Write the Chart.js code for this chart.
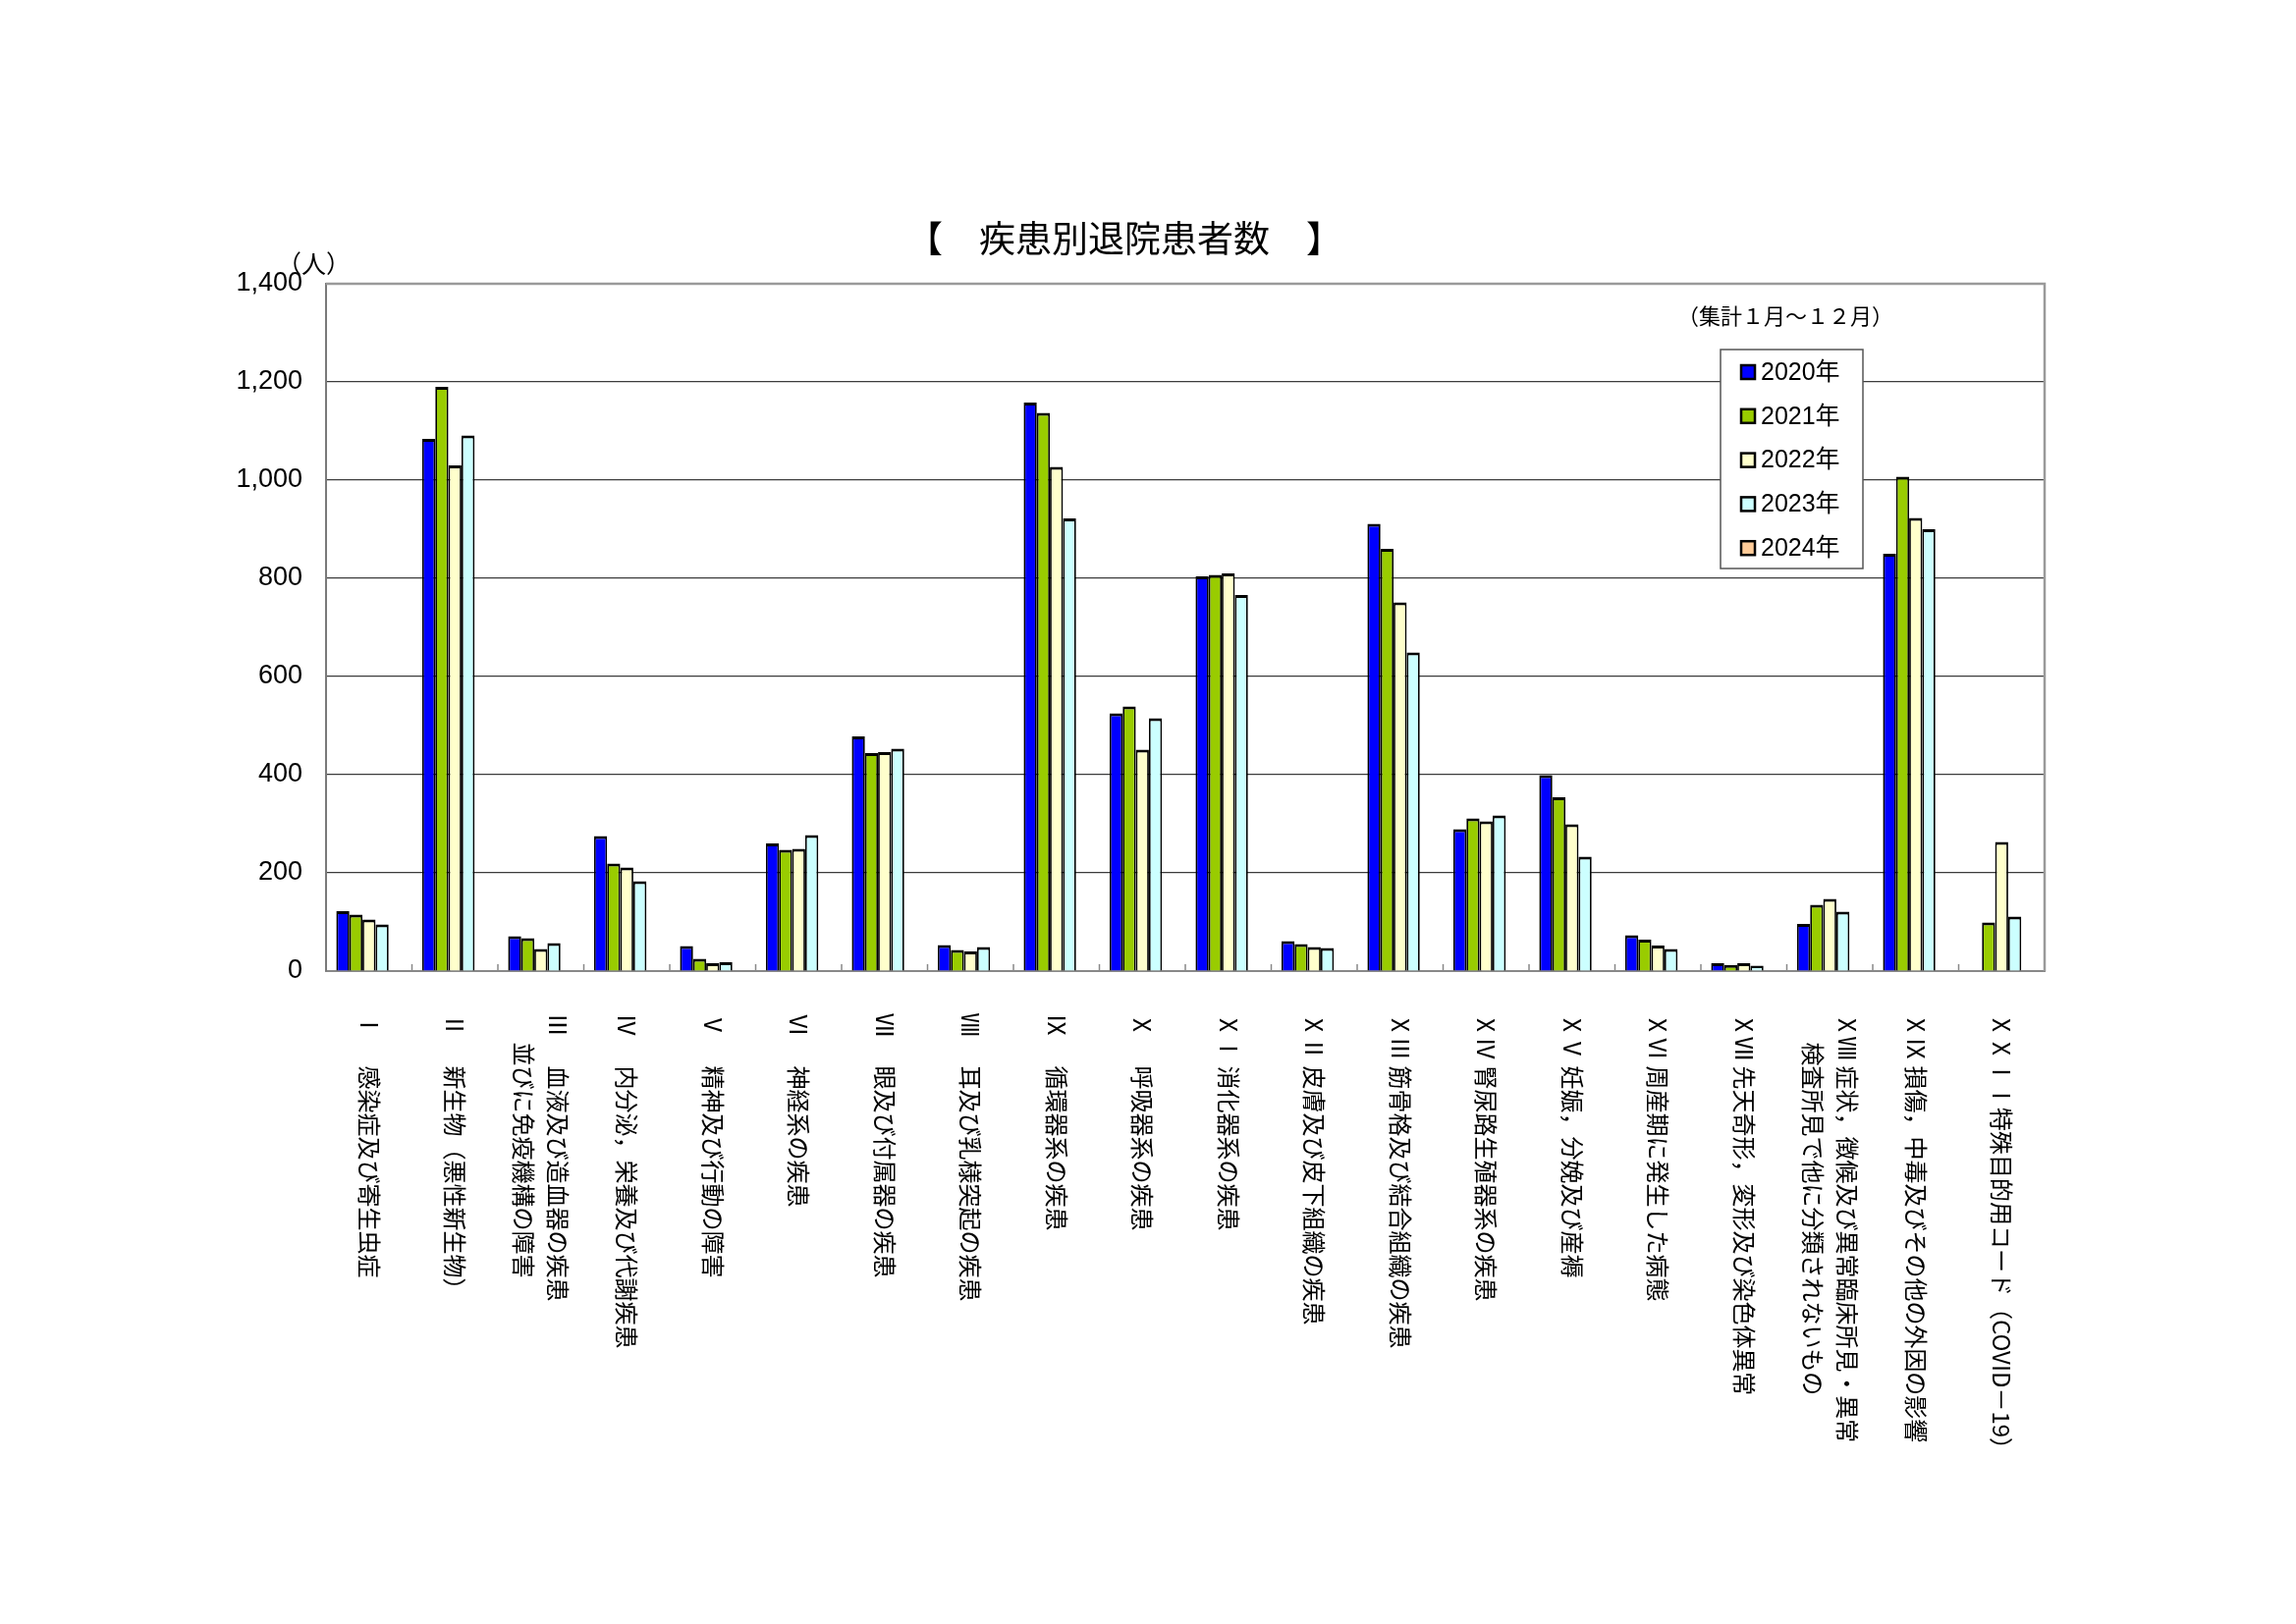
<!DOCTYPE html>
<html>
<head>
<meta charset="utf-8">
<script src="https://cdn.jsdelivr.net/npm/chart.js@4.4.1/dist/chart.umd.min.js"></script>
<style>
html,body{margin:0;padding:0;background:#ffffff;}
canvas{display:block;}
</style>
</head>
<body>
<canvas id="c" width="2338" height="1654"></canvas>
<script>
const TITLE = '【　疾患別退院患者数　】';
const UNIT = '（人）';
const PERIOD = '（集計１月～１２月）';

const categories = [
  'Ⅰ　 感染症及び寄生虫症',
  'Ⅱ　 新生物（悪性新生物）',
  ['Ⅲ　 血液及び造血器の疾患', '　 並びに免疫機構の障害'],
  'Ⅳ　 内分泌，栄養及び代謝疾患',
  'Ⅴ　 精神及び行動の障害',
  'Ⅵ　 神経系の疾患',
  'Ⅶ　 眼及び付属器の疾患',
  'Ⅷ　 耳及び乳様突起の疾患',
  'Ⅸ　 循環器系の疾患',
  'Ⅹ　 呼吸器系の疾患',
  'ⅩⅠ 消化器系の疾患',
  'ⅩⅡ 皮膚及び皮下組織の疾患',
  'ⅩⅢ 筋骨格及び結合組織の疾患',
  'ⅩⅣ 腎尿路生殖器系の疾患',
  'ⅩⅤ 妊娠，分娩及び産褥',
  'ⅩⅥ 周産期に発生した病態',
  'ⅩⅦ 先天奇形，変形及び染色体異常',
  ['ⅩⅧ 症状，徴候及び異常臨床所見・異常', '　 検査所見で他に分類されないもの'],
  'ⅩⅨ 損傷，中毒及びその他の外因の影響',
  'ⅩⅩⅠⅠ特殊目的用コード（COVID－19）'
];

const seriesNames = ['2020年', '2021年', '2022年', '2023年', '2024年'];

const v2020 = [122, 1084, 71, 275, 51, 260, 478, 53, 1158, 525, 804, 61, 911, 289, 399, 73, 16, 96, 850, null];
const v2021 = [115, 1190, 67, 219, 25, 247, 444, 43, 1137, 539, 807, 55, 860, 311, 354, 64, 12, 135, 1007, 99];
const v2022 = [105, 1030, 45, 211, 16, 249, 446, 40, 1027, 451, 810, 49, 751, 305, 299, 52, 16, 147, 923, 263];
const v2023 = [95, 1091, 57, 183, 18, 277, 453, 49, 922, 515, 766, 47, 649, 317, 233, 45, 11, 121, 900, 111];
const v2024 = [null, null, null, null, null, null, null, null, null, null, null, null, null, null, null, null, null, null, null, null];

const yMin = 0, yMax = 1400, yStep = 200;

const seriesColors = ['#0000FF', '#99CC00', '#FFFFCC', '#CCFFFF', '#FFCC99'];

const JP = '"Noto Sans CJK JP", "Noto Sans", sans-serif';
const NUM = '"Liberation Sans", "Noto Sans CJK JP", sans-serif';

const decorPlugin = {
  id: 'decor',
  afterDraw(chart) {
    const ctx = chart.ctx;
    const ca = chart.chartArea;
    const xs = chart.scales.x;
    ctx.save();

    // plot frame (top and right)
    ctx.strokeStyle = '#9a9a9a';
    ctx.lineWidth = 2.5;
    ctx.beginPath();
    ctx.moveTo(ca.left, ca.top);
    ctx.lineTo(ca.right, ca.top);
    ctx.lineTo(ca.right, ca.bottom);
    ctx.stroke();

    // category boundary tick marks (inside)
    const n = categories.length;
    const step = xs.getPixelForValue(1) - xs.getPixelForValue(0);
    ctx.strokeStyle = '#888888';
    ctx.lineWidth = 1.5;
    for (let i = 1; i < n; i++) {
      const x = xs.getPixelForValue(i) - step / 2;
      ctx.beginPath();
      ctx.moveTo(x, ca.bottom);
      ctx.lineTo(x, ca.bottom - 7);
      ctx.stroke();
    }

    // rotated category labels (clockwise)
    ctx.fillStyle = '#000000';
    ctx.font = '24px ' + JP;
    ctx.textAlign = 'left';
    ctx.textBaseline = 'middle';
    const lh = 35;
    categories.forEach((lab, i) => {
      const lines = Array.isArray(lab) ? lab : [lab];
      const cx = xs.getPixelForValue(i);
      lines.forEach((ln, j) => {
        const x = cx + ((lines.length - 1) / 2 - j) * lh;
        ctx.save();
        ctx.translate(x, ca.bottom + 43);
        ctx.rotate(Math.PI / 2);
        ctx.fillText(ln, 0, 0);
        ctx.restore();
      });
    });

    // title
    ctx.font = '37px ' + JP;
    ctx.textAlign = 'center';
    ctx.fillText(TITLE, 1145, 243);

    // unit
    ctx.font = '25px ' + JP;
    ctx.textAlign = 'left';
    ctx.fillText(UNIT, 282, 268);

    // period
    ctx.font = '22px ' + JP;
    ctx.fillText(PERIOD, 1708, 322);

    // legend
    const lx = 1752, ly = 356, lw = 145, lhh = 223;
    ctx.fillStyle = '#ffffff';
    ctx.fillRect(lx, ly, lw, lhh);
    ctx.strokeStyle = '#555555';
    ctx.lineWidth = 1.5;
    ctx.strokeRect(lx, ly, lw, lhh);
    ctx.font = '25px ' + NUM;
    chart.data.datasets.forEach((ds, k) => {
      const cy = 379 + k * 44.8;
      ctx.fillStyle = ds.backgroundColor;
      ctx.fillRect(1773, cy - 7, 14, 14);
      ctx.strokeStyle = '#000000';
      ctx.lineWidth = 2.5;
      ctx.strokeRect(1773, cy - 7, 14, 14);
      ctx.fillStyle = '#000000';
      ctx.fillText(ds.label, 1793, cy + 1);
    });

    ctx.restore();
  }
};

const seriesValues = [v2020, v2021, v2022, v2023, v2024];

new Chart(document.getElementById('c'), {
  type: 'bar',
  data: {
    labels: categories,
    datasets: seriesNames.map((name, k) => ({
      label: name,
      data: seriesValues[k],
      backgroundColor: seriesColors[k],
      borderColor: '#000000',
      borderWidth: { top: 3, left: 1.8, right: 1.8, bottom: 0 },
      borderSkipped: 'start',
      barPercentage: 1.0,
      categoryPercentage: 0.762
    }))
  },
  options: {
    responsive: false,
    animation: false,
    devicePixelRatio: 1,
    layout: { padding: { top: 289, right: 256, left: 0, bottom: 0 } },
    plugins: {
      legend: { display: false },
      title: { display: false },
      tooltip: { enabled: false }
    },
    scales: {
      x: {
        type: 'category',
        grid: { display: false },
        border: { display: true, color: '#888888', width: 2 },
        ticks: { display: false },
        afterFit(scale) { scale.height = 665; }
      },
      y: {
        min: yMin,
        max: yMax,
        ticks: {
          stepSize: yStep,
          padding: 24,
          color: '#000000',
          font: { family: NUM, size: 27 },
          callback: (v) => Number(v).toLocaleString('en-US')
        },
        grid: { color: '#3c3c3c', lineWidth: 1.2, drawTicks: false },
        border: { display: true, color: '#7a7a7a', width: 2 },
        afterFit(scale) { scale.width = 332; }
      }
    }
  },
  plugins: [decorPlugin]
});
</script>
</body>
</html>
